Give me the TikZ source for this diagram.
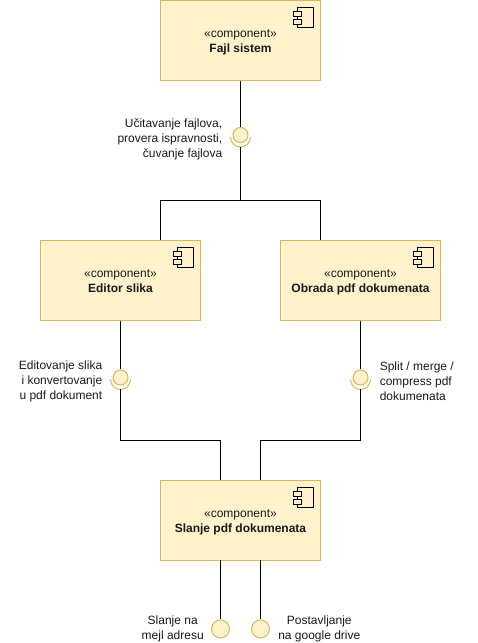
\documentclass[tikz,border=0pt]{standalone}
\usepackage{fontspec}
\setmainfont{Liberation Sans}
\usetikzlibrary{positioning}
\definecolor{compfill}{HTML}{FFF2CC}
\definecolor{compline}{HTML}{D6B656}
\definecolor{txtcol}{HTML}{1A1A1A}
\tikzset{
  comp/.style={rectangle, draw=compline, fill=compfill, line width=.75pt, minimum width=120pt, minimum height=60pt, inner sep=0pt, align=center, text=txtcol, font=\fontsize{9}{11.25}\selectfont, text height=20pt, text depth=2pt},
  iface/.style={circle, draw=compline, fill=compfill, line width=.75pt, minimum size=11.25pt, inner sep=0pt},
  lollipop/.style={circle, draw=compline, fill=compfill, line width=.75pt, minimum size=13.5pt, inner sep=0pt},
  socket/.style={draw=compline, line width=.75pt},
  conn/.style={draw=black, line width=.75pt},
  lbl/.style={inner sep=0pt, font=\fontsize{9}{11.25}\selectfont, text=txtcol}
}
% component glyph in the corner of a box
\newcommand{\compicon}[1]{
  \draw[black, line width=.75pt] ([shift={(-17.6pt,-5.6pt)}]#1.north east) rectangle ([shift={(-5.6pt,-20.6pt)}]#1.north east);
  \draw[black, fill=compfill, line width=.75pt] ([shift={(-20.6pt,-8.6pt)}]#1.north east) rectangle ([shift={(-14.6pt,-12.4pt)}]#1.north east);
  \draw[black, fill=compfill, line width=.75pt] ([shift={(-20.6pt,-14.6pt)}]#1.north east) rectangle ([shift={(-14.6pt,-18.4pt)}]#1.north east);
}
\begin{document}
\begin{tikzpicture}[x=.75pt, y=.75pt]
  \useasboundingbox (0,0) rectangle (478,643);
  \node[comp] (fajl) at (240.5,602.5) {«component»\\\textbf{Fajl sistem}};
  \node[comp] (editor) at (120.5,362.5) {«component»\\\textbf{Editor slika}};
  \node[comp] (obrada) at (360.5,362.5) {«component»\\\textbf{Obrada pdf dokumenata}};
  \node[comp] (slanje) at (240.5,122.5) {«component»\\\textbf{Slanje pdf dokumenata}};
  \compicon{fajl}
  \compicon{editor}
  \compicon{obrada}
  \compicon{slanje}

  % interfaces
  \node[iface] (ifajl) at (240.5,508) {};
  \node[iface] (ieditor) at (120.5,265.5) {};
  \node[iface] (iobrada) at (360.5,265.5) {};
  \draw[socket] ([shift={(-10,-2)}]ifajl.center) arc (180:360:10);
  \draw[socket] ([shift={(-10,-2)}]ieditor.center) arc (180:360:10);
  \draw[socket] ([shift={(-10,-2)}]iobrada.center) arc (180:360:10);
  \coordinate (sfajl) at ([yshift=-9pt]ifajl.center);
  \coordinate (seditor) at ([yshift=-9pt]ieditor.center);
  \coordinate (sobrada) at ([yshift=-9pt]iobrada.center);
  \node[lollipop] (imejl) at (220.5,14) {};
  \node[lollipop] (idrive) at (260.5,14) {};

  % connectors
  \coordinate (jfajl) at (240.5,442.5);
  \coordinate (jeditor) at (160.5,442.5);
  \coordinate (jobrada) at (320.5,442.5);
  \coordinate (eeditor) at (160.5,402.5);
  \coordinate (eobrada) at (320.5,402.5);
  \coordinate (jleft) at (220.5,202.5);
  \coordinate (jright) at (260.5,202.5);
  \coordinate (leftin) at (220.5,162.5);
  \coordinate (rightin) at (260.5,162.5);
  \coordinate (leftout) at (220.5,82.5);
  \coordinate (rightout) at (260.5,82.5);
  \draw[conn] (fajl) -- (ifajl);
  \draw[conn] (sfajl) -- (jfajl);
  \draw[conn] (eeditor) -- (jeditor) -- (jobrada) -- (eobrada);
  \draw[conn] (editor) -- (ieditor);
  \draw[conn] (obrada) -- (iobrada);
  \draw[conn] (seditor) |- (jleft) -- (leftin);
  \draw[conn] (sobrada) |- (jright) -- (rightin);
  \draw[conn] (leftout) -- (imejl);
  \draw[conn] (rightout) -- (idrive);

  % labels
  \node[lbl, align=right, left=7.5pt of ifajl, yshift=-3pt] (lfajl) {Učitavanje fajlova,\\provera ispravnosti,\\čuvanje fajlova};
  \node[lbl, align=right, left=7.5pt of ieditor, yshift=-3pt] (leditor) {Editovanje slika\\i konvertovanje\\u pdf dokument};
  \node[lbl, align=left, right=8.25pt of iobrada, yshift=-3pt] (lobrada) {Split / merge /\\compress pdf\\dokumenata};
  \node[lbl, align=center, left=5.25pt of imejl] (lmejl) {Slanje na\\mejl adresu};
  \node[lbl, align=center, right=6pt of idrive] (ldrive) {Postavljanje\\na google drive};
\end{tikzpicture}
\end{document}
